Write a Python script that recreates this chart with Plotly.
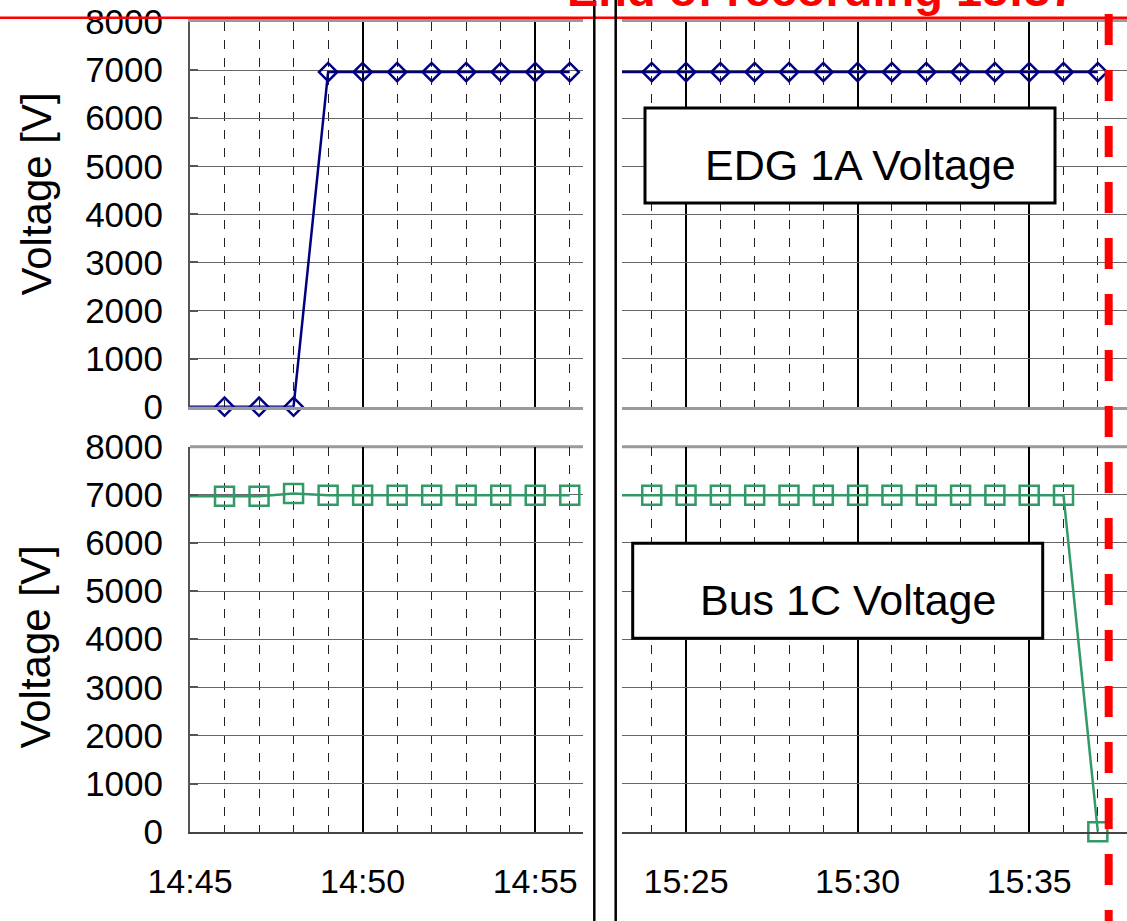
import plotly.graph_objects as go

W, H = 1127, 921
DAY = "2011-03-11 "

# ---- data ----
times_left = ["14:44", "14:46", "14:47", "14:48", "14:49", "14:50", "14:51",
              "14:52", "14:53", "14:54", "14:55", "14:56"]
edg_left = [0, 0, 0, 0, 6960, 6960, 6960, 6960, 6960, 6960, 6960, 6960]
bus_left = [6970, 6970, 6970, 7030, 6990, 6990, 6990, 6990, 6990, 6990, 6990, 6990]

times_right = ["15:23", "15:24", "15:25", "15:26", "15:27", "15:28", "15:29", "15:30",
               "15:31", "15:32", "15:33", "15:34", "15:35", "15:36", "15:37"]
edg_right = [6960, 6960, 6960, 6960, 6960, 6960, 6960, 6960,
             6960, 6960, 6960, 6960, 6960, 6960, 6960]
bus_right = [6990, 6990, 6990, 6990, 6990, 6990, 6990, 6990,
             6990, 6990, 6990, 6990, 6990, 6990, 0]

y_ticks = [0, 1000, 2000, 3000, 4000, 5000, 6000, 7000, 8000]
y_title = "Voltage [V]"
label_edg = "EDG 1A Voltage"
label_bus = "Bus 1C Voltage"
end_label = "End of recording 15:37"
end_time = "15:37:19"

NAVY = "#000080"
GREEN = "#339966"
FONT = "Liberation Sans"


def px_x(p):
    return p / W


def px_y(p):
    return 1 - p / H


def ts(lst):
    return [DAY + t for t in lst]


def hide_first(n):
    # first point lies just outside the visible window (only its line segment shows)
    return [0] + [1] * (n - 1)


fig = go.Figure()


def diamond(n):
    return dict(symbol="diamond-open", size=14, color=NAVY,
                line=dict(width=2.5, color=NAVY), opacity=hide_first(n))


def square(n):
    return dict(symbol="square-open", size=19, color=GREEN,
                line=dict(width=2.5, color=GREEN), opacity=hide_first(n))


fig.add_trace(go.Scatter(x=ts(times_left), y=edg_left, mode="lines+markers",
                         line=dict(color=NAVY, width=2.5), marker=diamond(len(edg_left)),
                         cliponaxis=False, xaxis="x", yaxis="y"))
fig.add_trace(go.Scatter(x=ts(times_right), y=edg_right, mode="lines+markers",
                         line=dict(color=NAVY, width=2.5), marker=diamond(len(edg_right)),
                         cliponaxis=False, xaxis="x2", yaxis="y2"))
fig.add_trace(go.Scatter(x=ts(times_left), y=bus_left, mode="lines+markers",
                         line=dict(color=GREEN, width=2.5), marker=square(len(bus_left)),
                         cliponaxis=False, xaxis="x3", yaxis="y3"))
fig.add_trace(go.Scatter(x=ts(times_right), y=bus_right, mode="lines+markers",
                         line=dict(color=GREEN, width=2.5), marker=square(len(bus_right)),
                         cliponaxis=False, xaxis="x4", yaxis="y4"))

left_dom = [px_x(190), px_x(583)]
right_dom = [px_x(622), 1.0]
top_dom = [px_y(406.7), px_y(22)]
bot_dom = [px_y(831.7), px_y(446.7)]
left_range = [DAY + "14:45:00", DAY + "14:56:23"]
right_range = [DAY + "15:23:08", DAY + "15:37:51"]


def xax(domain, rng, anchor, labels, top):
    d = dict(domain=domain, range=rng, anchor=anchor, type="date",
             showticklabels=labels, tickformat="%H:%M",
             tick0=DAY + "14:45:00", dtick=300000, ticks="",
             showgrid=True, gridcolor="black", gridwidth=2,
             minor=dict(dtick=60000, tick0=DAY + "14:45:00", showgrid=True,
                        gridcolor="#222222", gridwidth=1, griddash="dash"),
             tickfont=dict(family=FONT, size=34, color="black"),
             ticklabelstandoff=18, zeroline=False, fixedrange=True, automargin=False)
    if top:
        d.update(showline=True, mirror=True, linecolor="#9a9a9a", linewidth=3)
    else:
        d.update(showline=True, mirror=False, linecolor="#444444", linewidth=2)
    return d


def yax(domain, anchor, labels):
    d = dict(domain=domain, anchor=anchor, range=[0, 8000], tickvals=y_ticks,
             showticklabels=labels, showgrid=True, gridcolor="#666666", gridwidth=1,
             zeroline=False, tickfont=dict(family=FONT, size=35, color="black"),
             fixedrange=True, automargin=False)
    if labels:
        d.update(showline=True, linecolor="#555555", linewidth=2, ticks="inside",
                 ticklen=8, tickcolor="#555555", tickwidth=1.5, ticklabelstandoff=18)
    else:
        d.update(showline=False, ticks="")
    return d


fig.update_layout(
    width=W, height=H, margin=dict(l=0, r=0, t=0, b=0, pad=0, autoexpand=False),
    paper_bgcolor="white", plot_bgcolor="white", showlegend=False,
    font=dict(family=FONT, color="black"),
    xaxis=xax(left_dom, left_range, "y", False, True),
    xaxis2=xax(right_dom, right_range, "y2", False, True),
    xaxis3=xax(left_dom, left_range, "y3", True, False),
    xaxis4=xax(right_dom, right_range, "y4", True, False),
    yaxis=yax(top_dom, "x", True),
    yaxis2=yax(top_dom, "x2", False),
    yaxis3=yax(bot_dom, "x3", True),
    yaxis4=yax(bot_dom, "x4", False),
)

shapes = []
# light top border of the lower panels
for xr, yr in (("x3 domain", "y3 domain"), ("x4 domain", "y4 domain")):
    shapes.append(dict(type="line", xref=xr, yref=yr, x0=0, x1=1, y0=1, y1=1,
                       line=dict(color="#9a9a9a", width=3), layer="below"))
# red horizontal line at top
shapes.append(dict(type="line", xref="paper", yref="paper", x0=0, x1=1,
                   y0=px_y(17.7), y1=px_y(17.7), line=dict(color="red", width=2.5),
                   layer="above"))
# axis break lines
for xp in (594.3, 615.7):
    shapes.append(dict(type="line", xref="paper", yref="paper", x0=px_x(xp), x1=px_x(xp),
                       y0=1.0, y1=0.0, line=dict(color="black", width=2.5), layer="above"))
# label boxes
shapes.append(dict(type="rect", xref="paper", yref="paper",
                   x0=px_x(645), x1=px_x(1055), y0=px_y(108), y1=px_y(203),
                   line=dict(color="black", width=3), fillcolor="white", layer="above"))
shapes.append(dict(type="rect", xref="paper", yref="paper",
                   x0=px_x(632.7), x1=px_x(1042.7), y0=px_y(543.3), y1=px_y(638.3),
                   line=dict(color="black", width=3), fillcolor="white", layer="above"))
# end-of-recording dashed line
shapes.append(dict(type="line", xref="x2", yref="paper", x0=DAY + end_time, x1=DAY + end_time,
                   y0=px_y(14), y1=0.0, line=dict(color="red", width=8, dash="31px,25px"),
                   layer="above"))
fig.update_layout(shapes=shapes)

annotations = [
    dict(text=y_title, textangle=-90, xref="paper", yref="paper", x=px_x(36), y=px_y(194.5),
         showarrow=False, font=dict(family=FONT, size=42, color="black"),
         xanchor="center", yanchor="middle"),
    dict(text=y_title, textangle=-90, xref="paper", yref="paper", x=px_x(35), y=px_y(647.5),
         showarrow=False, font=dict(family=FONT, size=42, color="black"),
         xanchor="center", yanchor="middle"),
    dict(text=label_edg, xref="paper", yref="paper", x=px_x(860.5), y=px_y(165),
         showarrow=False, font=dict(family=FONT, size=43, color="black"),
         xanchor="center", yanchor="middle"),
    dict(text=label_bus, xref="paper", yref="paper", x=px_x(847.5), y=px_y(600),
         showarrow=False, font=dict(family=FONT, size=43, color="black"),
         xanchor="center", yanchor="middle"),
    dict(text=end_label, xref="paper", yref="paper", x=px_x(821.5), y=px_y(18),
         showarrow=False, font=dict(family=FONT, size=47, color="red", weight="bold"),
         xanchor="center", yanchor="bottom"),
]
fig.update_layout(annotations=annotations)

fig.write_html("out.html")
